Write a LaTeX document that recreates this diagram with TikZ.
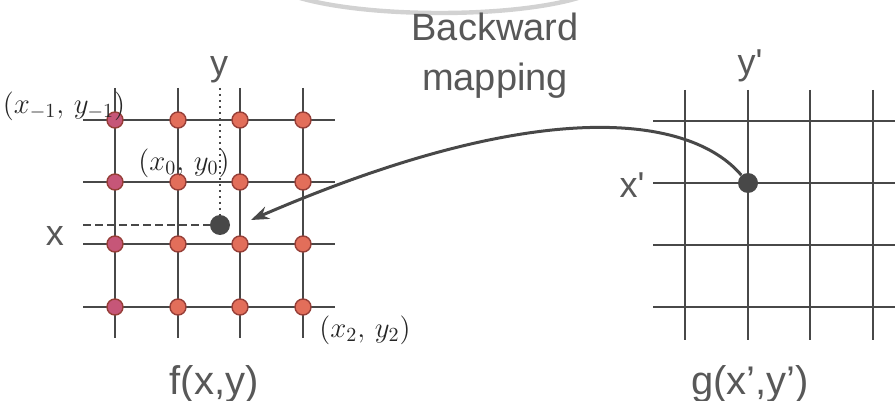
\documentclass[tikz,border=0pt]{standalone}
\usepackage{fontspec}
\setmainfont{Liberation Sans}
\usetikzlibrary{positioning,arrows.meta}
\definecolor{GridGray}{RGB}{72,72,72}
\definecolor{DotRed}{RGB}{226,110,90}
\definecolor{DotPink}{RGB}{198,86,120}
\definecolor{DotEdge}{RGB}{150,62,55}
\definecolor{LabelGray}{RGB}{88,88,88}
\definecolor{ArcGray}{RGB}{210,210,210}
\tikzset{
  gridline/.style={draw=GridGray,line width=1.2pt},
  sample/.style={circle,draw=DotEdge,line width=0.7pt,minimum size=8pt,inner sep=0pt},
  target/.style={circle,fill=GridGray,minimum size=10pt,inner sep=0pt},
  lbl/.style={text=LabelGray,inner sep=0pt,font=\fontsize{18}{20}\selectfont},
  caption/.style={lbl,font=\fontsize{20}{22}\selectfont},
  pt/.style={text=black!85,inner sep=0pt,font=\fontsize{14}{16}\selectfont},
  guide/.style={draw=GridGray,line width=0.9pt},
  mapping/.style={draw=GridGray,line width=1.5pt,-{Stealth[length=9pt,width=6.5pt]}},
}

\begin{document}
\begin{tikzpicture}[x=0.5pt,y=-0.5pt]
\useasboundingbox (0,0) rectangle (895,401);
% arc at the top
\draw[ArcGray,line width=2.2pt] (300,-2) .. controls (370,18) and (510,18) .. (578,-2);
% source grid f(x,y)
\foreach \c in {115,178,240,303}
  \draw[gridline] (\c,88)--(\c,338);
\foreach \r in {120,182,244,307}
  \draw[gridline] (83,\r)--(335,\r);
\coordinate (ytop) at (220,88);
\coordinate (xleft) at (83,225);
\coordinate (fpos) at (220,225);
\draw[guide,dash pattern=on 1.2pt off 1.8pt] (ytop)--(fpos);
\draw[guide,dash pattern=on 4pt off 2pt] (xleft)--(fpos);
\foreach \c/\col [count=\i] in {115/DotPink,178/DotRed,240/DotRed,303/DotRed}
  \foreach \r [count=\j] in {120,182,244,307}
    \node[sample,fill=\col] (s\i\j) at (\c,\r) {};
\node[target] (fdot) at (fpos) {};
\coordinate (tip) at (251,220);
\node[lbl,anchor=base] (ylab) at (219,76) {y};
\node[lbl,anchor=base] (xlab) at (55,245) {x};
\node[pt] (pm1) at (64,106) {$(x_{-1},\,y_{-1})$};
\node[pt] (p0) at (184,163) {$(x_0,\,y_0)$};
\node[pt] (p2) at (365,330) {$(x_2,\,y_2)$};
\node[caption,anchor=base] (flab) at (214,394) {f(x,y)};
% target grid g(x',y')
\foreach \c in {685,748,810,873}
  \draw[gridline] (\c,90)--(\c,340);
\foreach \r in {121,183,245,307}
  \draw[gridline] (653,\r)--(900,\r);
\node[target] (gdot) at (748,183) {};
\node[lbl,anchor=base] (yplab) at (750,75) {y\textquotesingle};
\node[lbl,anchor=base] (xplab) at (632,198) {x\textquotesingle};
\node[caption,anchor=base] (glab) at (750,394) {g(x',y')};
% mapping
\node[lbl,align=center,font=\fontsize{19}{25}\selectfont] (bwd) at (495,56) {Backward\\mapping};
\draw[mapping] (gdot) .. controls (690,115) and (540,95) .. (tip);
\end{tikzpicture}
\end{document}
